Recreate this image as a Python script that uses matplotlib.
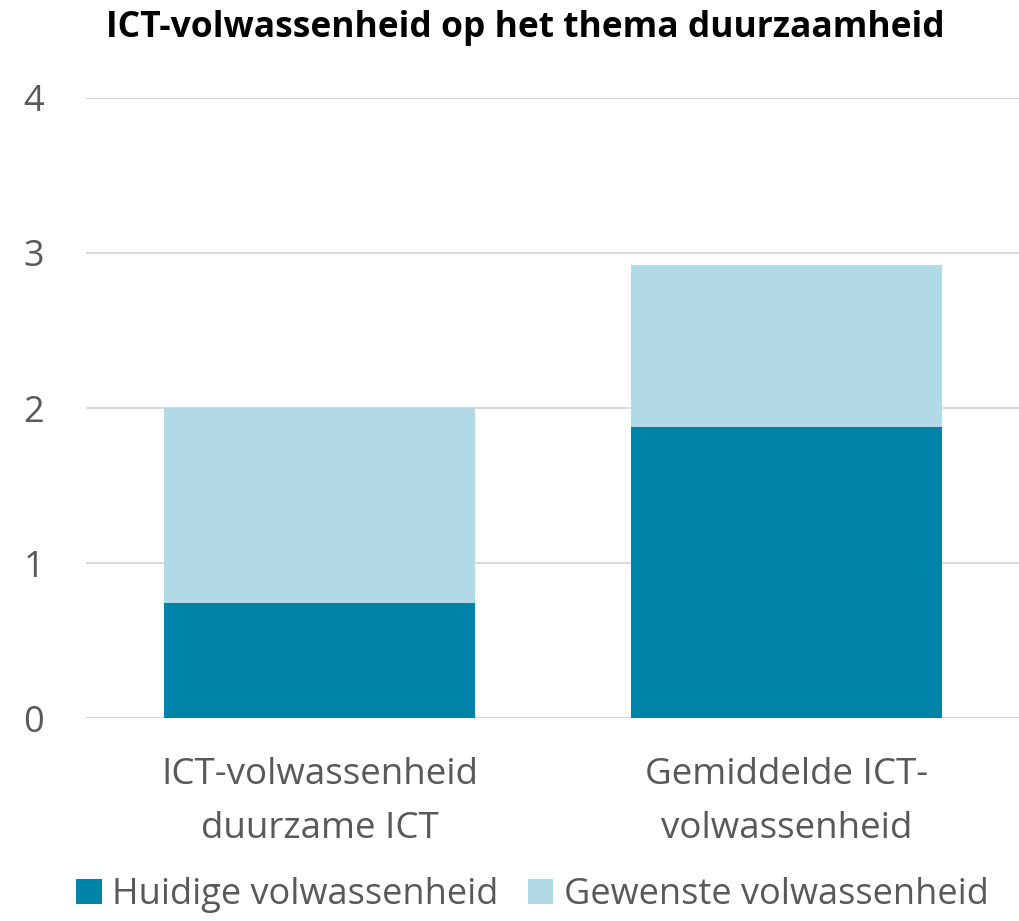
import numpy as np
import matplotlib.pyplot as plt

categories = ["ICT-volwassenheid\nduurzame ICT", "Gemiddelde ICT-\nvolwassenheid"]
huidig = [0.74, 1.88]
gewenst = [2.0, 2.92]

donker = "#0083A9"
licht = "#B1D9E6"
grijs = "#595959"

plt.rcParams['font.family'] = ['Open Sans', 'DejaVu Sans']

fig = plt.figure(figsize=(10.2, 9.21), dpi=100)
ax = fig.add_axes([0.0843, 0.2204, 0.9157, 0.6732])

x = np.arange(len(categories))
ax.bar(x, gewenst, width=0.667, color=licht, label="Gewenste volwassenheid", zorder=2)
ax.bar(x, huidig, width=0.667, color=donker, label="Huidige volwassenheid", zorder=3)

ax.set_xlim(-0.5, 1.5)
ax.set_ylim(0, 4)
ax.set_yticks([0, 1, 2, 3, 4])
ax.set_xticks(x)
ax.set_xticklabels(categories, fontsize=26.5, color=grijs, linespacing=1.68)
ax.tick_params(axis='y', labelsize=26, labelcolor=grijs, length=0, pad=30)
ax.tick_params(axis='x', length=0, pad=28)
ax.grid(axis='y', color="#D9D9D9", linewidth=1.5, zorder=0)
for s in ax.spines.values():
    s.set_visible(False)

fig.text(0.515, 0.970, "ICT-volwassenheid op het thema duurzaamheid",
         ha='center', va='center', fontsize=25.5, fontweight='bold', color='black')

handles, labels = ax.get_legend_handles_labels()
fig.legend(handles[::-1], labels[::-1], loc='center', bbox_to_anchor=(0.522, 0.028),
           ncol=2, frameon=False, fontsize=26, labelcolor=grijs,
           handlelength=0.7, handleheight=0.7, handletextpad=0.3, columnspacing=0.8)

fig.savefig("out.png", dpi=100)
